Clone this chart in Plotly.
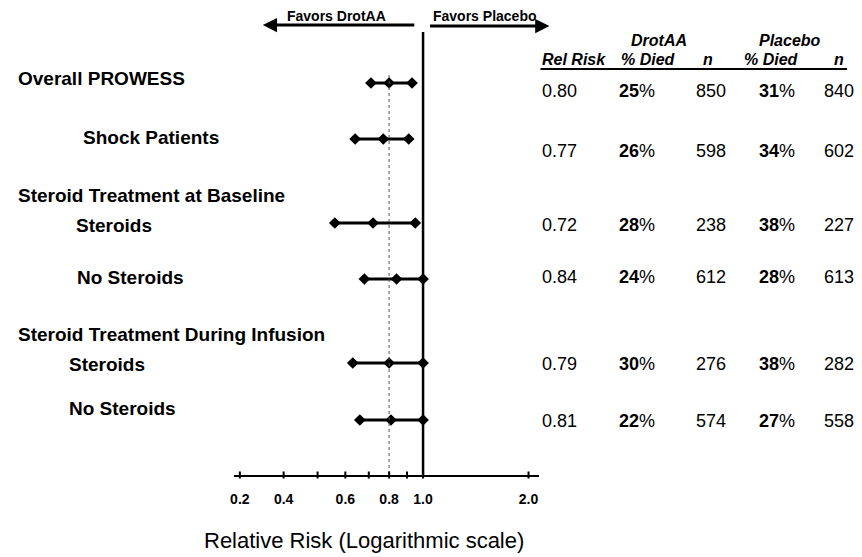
import plotly.graph_objects as go

# ---------------- data ----------------
row_labels = ["Overall PROWESS", "Shock Patients", "Steroids", "No Steroids", "Steroids", "No Steroids"]
group_headers = ["Steroid Treatment at Baseline", "Steroid Treatment During Infusion"]
rr_point = [0.80, 0.77, 0.72, 0.84, 0.80, 0.81]
ci_low = [0.71, 0.64, 0.56, 0.68, 0.63, 0.66]
ci_high = [0.93, 0.91, 0.95, 1.00, 1.00, 1.00]
rr_text = ["0.80", "0.77", "0.72", "0.84", "0.79", "0.81"]
drot_pct = [25, 26, 28, 24, 30, 22]
drot_n = [850, 598, 238, 612, 276, 574]
plac_pct = [31, 34, 38, 28, 38, 27]
plac_n = [840, 602, 227, 613, 282, 558]
tick_vals = [0.3, 0.4, 0.6, 0.8, 1.0, 2.0]
tick_text = ["0.2", "0.4", "0.6", "0.8", "1.0", "2.0"]
minor_ticks = [0.3, 0.4, 0.5, 0.6, 0.7, 0.8, 0.9, 1.0, 2.0]

# ---------------- layout positions (pixels) ----------------
W, H = 862, 557
AXIS_Y = 475
row_y = [83, 139, 223, 279, 363, 420]
label_pos = [(12, 78), (77, 137), (70, 225), (71, 277), (63, 364), (63, 408)]
header_pos = [(12, 195), (12, 334)]
table_y = [91, 151, 225, 277, 364, 421]

FONT = "Liberation Sans, Arial, Helvetica, sans-serif"


def px(x):
    return x / W


def py(y):
    return 1 - y / H


def text_ann(x, y, text, font, xanchor="center"):
    return dict(x=px(x), y=py(y), text=text, xref="paper", yref="paper",
                xanchor=xanchor, yanchor="middle", showarrow=False, font=font)


fig = go.Figure()

for i in range(len(row_labels)):
    fig.add_trace(go.Scatter(
        x=[ci_low[i], rr_point[i], ci_high[i]],
        y=[row_y[i]] * 3,
        mode="lines+markers",
        line=dict(color="black", width=3),
        marker=dict(symbol="diamond", size=9, color="black"),
        showlegend=False, hoverinfo="skip", cliponaxis=False,
    ))

lab_font = dict(family=FONT, size=19, color="black", weight="bold")
ann = []
for (x, y), t in zip(label_pos, row_labels):
    ann.append(text_ann(x, y, t, lab_font, "left"))
for (x, y), t in zip(header_pos, group_headers):
    ann.append(text_ann(x, y, t, lab_font, "left"))

# table headers
hdr_font = dict(family=FONT, size=16, color="black")
ann.append(text_ann(658, 40, "<b><i>DrotAA</i></b>", hdr_font))
ann.append(text_ann(790, 40, "<b><i>Placebo</i></b>", hdr_font))
for x, t, anc in [(539, "Rel Risk", "left"), (648, "% Died", "center"), (707, "n", "center"),
                  (771, "% Died", "center"), (839, "n", "center")]:
    ann.append(text_ann(x, 60, f"<b><i>{t}</i></b>", hdr_font, anc))

cell_font = dict(family=FONT, size=18, color="black")
for i in range(len(row_labels)):
    y = table_y[i]
    ann.append(text_ann(539, y, rr_text[i], cell_font, "left"))
    ann.append(text_ann(636, y, f"<b>{drot_pct[i]}</b>%", cell_font))
    ann.append(text_ann(710, y, str(drot_n[i]), cell_font))
    ann.append(text_ann(777, y, f"<b>{plac_pct[i]}</b>%", cell_font))
    ann.append(text_ann(839, y, str(plac_n[i]), cell_font))

# favors arrows
fav_font = dict(family=FONT, size=14, color="black", weight="bold")
ann.append(dict(x=px(260), y=py(25), ax=153, ay=0, text="", xref="paper", yref="paper",
                showarrow=True, arrowhead=2, arrowsize=0.95, arrowwidth=3, arrowcolor="black"))
ann.append(dict(x=px(548), y=py(26), ax=-121, ay=0, text="", xref="paper", yref="paper",
                showarrow=True, arrowhead=2, arrowsize=0.95, arrowwidth=3, arrowcolor="black"))
ann.append(text_ann(334, 16, "Favors DrotAA", fav_font))
ann.append(text_ann(483, 16, "Favors Placebo", fav_font))

# axis title
ann.append(text_ann(362, 540, "Relative Risk (Logarithmic scale)",
                    dict(family=FONT, size=22, color="black")))

shapes = [
    dict(type="line", xref="x", yref="y", x0=1.0, x1=1.0, y0=32, y1=AXIS_Y,
         line=dict(color="black", width=2.5)),
    dict(type="line", xref="x", yref="y", x0=0.8, x1=0.8, y0=75, y1=AXIS_Y,
         line=dict(color="#555555", width=1, dash="dot")),
    dict(type="line", xref="paper", yref="paper", x0=px(539), x1=px(847), y0=py(69), y1=py(69),
         line=dict(color="black", width=2)),
]
for v in minor_ticks:
    shapes.append(dict(type="line", xref="x", yref="paper", x0=v, x1=v,
                       y0=py(AXIS_Y + 3.5), y1=py(AXIS_Y - 3.5),
                       line=dict(color="black", width=2)))

fig.update_layout(
    width=W, height=H,
    margin=dict(l=0, r=0, t=0, b=0),
    paper_bgcolor="white", plot_bgcolor="white",
    xaxis=dict(type="log", domain=[px(231), px(537)], range=[-0.5398, 0.3295],
               tickvals=tick_vals, ticktext=tick_text, ticks="", showgrid=False, zeroline=False,
               showline=True, linecolor="black", linewidth=2, ticklabelstandoff=10,
               fixedrange=True,
               tickfont=dict(family=FONT, size=14, color="black", weight="bold")),
    yaxis=dict(domain=[1 - AXIS_Y / H, 1], range=[AXIS_Y, 0], visible=False, showgrid=False,
               fixedrange=True),
    annotations=ann, shapes=shapes,
)

fig.write_html("out.html", config={"displayModeBar": False, "staticPlot": True},
               post_script="document.body.style.margin='0';document.body.style.overflow='hidden';")
